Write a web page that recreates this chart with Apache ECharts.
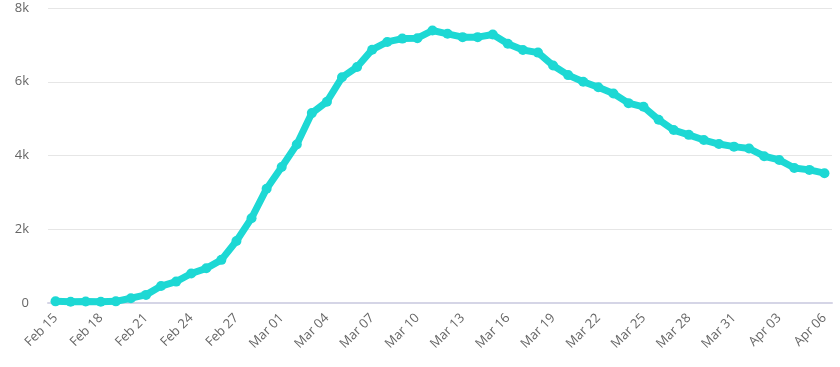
<!DOCTYPE html>
<html>
<head>
<meta charset="utf-8">
<script src="https://cdn.jsdelivr.net/npm/echarts@6/dist/echarts.min.js"></script>
<style>
html,body{margin:0;padding:0;background:#fff;}
#chart{width:840px;height:367px;}
</style>
</head>
<body>
<div id="chart"></div>
<script>
const categories = [
  'Feb 15','Feb 16','Feb 17','Feb 18','Feb 19','Feb 20','Feb 21','Feb 22','Feb 23','Feb 24','Feb 25','Feb 26','Feb 27','Feb 28','Feb 29',
  'Mar 01','Mar 02','Mar 03','Mar 04','Mar 05','Mar 06','Mar 07','Mar 08','Mar 09','Mar 10','Mar 11','Mar 12','Mar 13','Mar 14','Mar 15',
  'Mar 16','Mar 17','Mar 18','Mar 19','Mar 20','Mar 21','Mar 22','Mar 23','Mar 24','Mar 25','Mar 26','Mar 27','Mar 28','Mar 29','Mar 30',
  'Mar 31','Apr 01','Apr 02','Apr 03','Apr 04','Apr 05','Apr 06'
];
const values = [
  45, 35, 40, 35, 45, 130, 220, 460, 580, 800, 940, 1170, 1680, 2300, 3100,
  3690, 4300, 5150, 5460, 6120, 6400, 6870, 7080, 7170, 7180, 7390, 7300, 7210, 7210, 7280,
  7030, 6860, 6790, 6440, 6180, 6000, 5850, 5680, 5420, 5320, 4970, 4690, 4560, 4420, 4310,
  4240, 4190, 3980, 3880, 3660, 3610, 3520
];
const yTicks = [0, 2000, 4000, 6000, 8000];

const chart = echarts.init(document.getElementById('chart'));
chart.setOption({
  animation: false,
  grid: {left: 48, right: 8, top: 8, bottom: 64, containLabel: false},
  xAxis: {
    type: 'category',
    data: categories,
    boundaryGap: true,
    axisLine: {lineStyle: {color: '#d5d5e6', width: 2}},
    axisTick: {show: false},
    axisLabel: {
      interval: 2,
      rotate: 45,
      margin: 13,
      color: '#666',
      fontSize: 13,
      fontFamily: 'Open Sans'
    },
    splitLine: {show: false}
  },
  yAxis: {
    type: 'value',
    min: yTicks[0],
    max: yTicks[yTicks.length - 1],
    interval: 2000,
    axisLine: {show: false},
    axisTick: {show: false},
    axisLabel: {
      margin: 19,
      color: '#666',
      fontSize: 13,
      fontFamily: 'Open Sans',
      formatter: v => v === 0 ? '0' : (v / 1000) + 'k'
    },
    splitLine: {lineStyle: {color: '#e6e6e6', width: 1}}
  },
  series: [{
    type: 'line',
    data: values,
    symbol: 'circle',
    symbolSize: 10,
    showAllSymbol: true,
    lineStyle: {color: '#1dd8d4', width: 7},
    itemStyle: {color: '#1dd8d4'},
    z: 3
  }]
});
</script>
</body>
</html>
